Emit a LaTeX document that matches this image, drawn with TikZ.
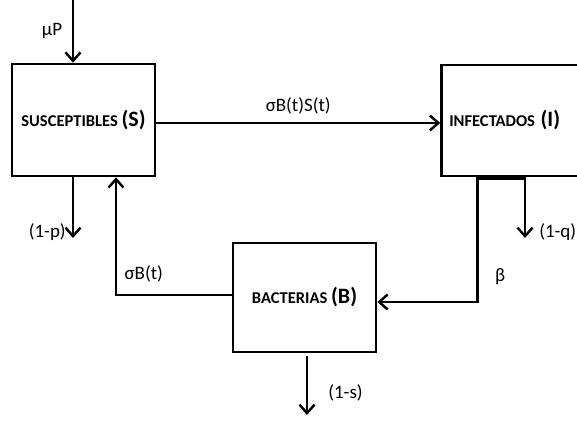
\documentclass[tikz,border=0pt]{standalone}
\usepackage{fontspec}
\setmainfont{Carlito}
\usetikzlibrary{arrows.meta,positioning}
\tikzset{
  compbox/.style={draw,line width=1.5pt,minimum width=2.86cm,align=center,
                  font=\bfseries\fontsize{9.4}{11}\selectfont},
  flow/.style={line width=1.6pt,-{Straight Barb[length=1.7mm,width=3mm,line width=1.4pt]}},
  rate/.style={font=\fontsize{10.8}{12}\selectfont}
}
\newcommand{\bigtag}[1]{{\fontsize{12.5}{13}\selectfont #1}}
\begin{document}
\begin{tikzpicture}[x=0.02cm,y=-0.02cm]
  \useasboundingbox (0,0) rectangle (577,421);

  % compartments
  \node[compbox,minimum height=2.24cm] (S) at (83.5,120) {SUSCEPTIBLES \bigtag{(S)}};
  \node[compbox,minimum height=2.22cm,text width=2.55cm,align=left] (I) at (513,120.5)
    {INFECTADOS \bigtag{(I)}};
  \node[compbox,minimum height=2.18cm] (B) at (304.5,297.5) {BACTERIAS \bigtag{(B)}};

  % free ends
  \coordinate (inP) at (73,0);
  \coordinate (outS) at (73,238);
  \coordinate (outI) at (525,238);
  \coordinate (outB) at (307,415);

  % flows
  \draw[flow] (inP) -- (inP |- S.north) node[rate,midway,left=2pt]{µP};
  \draw[flow] (outS |- S.south) -- (outS) node[rate,left=0pt,pos=0.9]{(1-p)};
  \draw[flow] ([yshift=-0.06cm]S.east) -- ([yshift=-0.06cm]S.east -| I.west)
    node[rate,midway,above=1pt]{σB(t)S(t)};
  \draw[line width=2.6pt] ([xshift=0.74cm]I.south west) -- (outI |- I.south);
  \draw[flow] (outI |- I.south) -- (outI) node[rate,right=4pt,pos=0.9]{(1-q)};
  \draw[flow] ([xshift=0.74cm]I.south west) |- ([yshift=-0.09cm]B.east)
    node[rate,pos=0.4,right=6pt]{β};
  \draw[flow] ([yshift=0.05cm]B.west) -| ([xshift=0.65cm]S.south)
    node[rate,pos=0.38,above=3pt]{σB(t)};
  \draw[flow] ([yshift=-0.06cm]outB |- B.south) -- (outB)
    node[rate,pos=0.62,right=8pt]{(1-s)};
\end{tikzpicture}
\end{document}
